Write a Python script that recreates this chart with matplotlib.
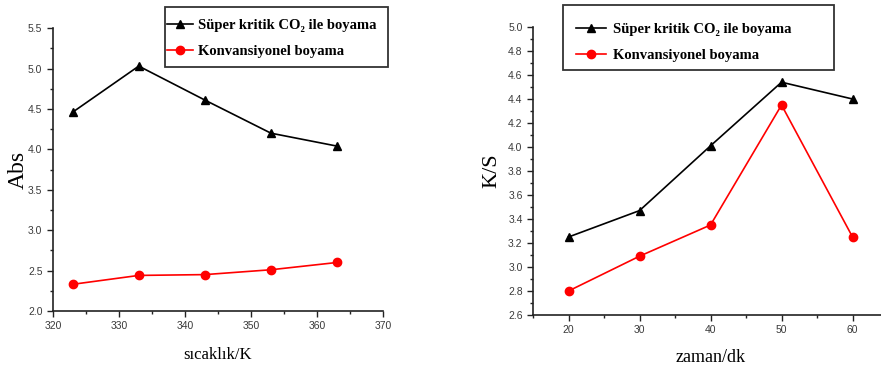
import matplotlib
matplotlib.use("Agg")
import matplotlib.pyplot as plt
from matplotlib.patches import Rectangle
from matplotlib.ticker import MultipleLocator, FormatStrFormatter

# left panel: absorbance vs temperature
temp_k = [323, 333, 343, 353, 363]
abs_sc = [4.46, 5.03, 4.61, 4.20, 4.04]
abs_conv = [2.33, 2.44, 2.45, 2.51, 2.60]

# right panel: K/S vs time
time_dk = [20, 30, 40, 50, 60]
ks_sc = [3.25, 3.47, 4.01, 4.54, 4.40]
ks_conv = [2.80, 3.09, 3.35, 4.35, 3.25]

label_sc = "Süper kritik CO₂ ile boyama"
label_conv = "Konvansiyonel boyama"

serif = ["Liberation Serif", "DejaVu Serif"]
sans = ["Liberation Sans", "DejaVu Sans"]

W, H = 881, 365
fig = plt.figure(figsize=(W / 100, H / 100), dpi=100)
ax1 = fig.add_axes([0.060, 0.148, 0.375, 0.775])
ax2 = fig.add_axes([0.605, 0.137, 0.403, 0.789])


def style_axes(ax):
    for s in ["top", "right"]:
        ax.spines[s].set_visible(False)
    for s in ["left", "bottom"]:
        ax.spines[s].set_linewidth(1.2)
        ax.spines[s].set_color("#222222")
    ax.tick_params(which="major", direction="out", length=4, width=1,
                   labelsize=7.5, labelcolor="#3a3a3a", colors="#222222")
    ax.tick_params(which="minor", direction="out", length=2.5, width=1, colors="#222222")
    for t in ax.get_xticklabels() + ax.get_yticklabels():
        t.set_family(sans)


def add_legend(ax, box, x0, top, hlen, hpad, spacing):
    # box in pixels: left, top, right, bottom
    l, t, r, b = box
    fig.patches.append(Rectangle((l / W, 1 - b / H), (r - l) / W, (b - t) / H,
                                 transform=fig.transFigure, fill=False,
                                 edgecolor="#333333", linewidth=1.3, zorder=5))
    ax.legend(loc="upper left", bbox_to_anchor=(x0 / W, 1 - top / H),
              bbox_transform=fig.transFigure, frameon=False,
              handlelength=hlen, handletextpad=hpad, labelspacing=spacing,
              borderpad=0, borderaxespad=0,
              prop={"family": serif, "weight": "bold", "size": 10.5})


# left
ax1.plot(temp_k, abs_sc, color="black", marker="^", markersize=6, linewidth=1.2, label=label_sc)
ax1.plot(temp_k, abs_conv, color="#ff0000", marker="o", markersize=6, linewidth=1.2, label=label_conv)
ax1.set_xlim(320, 370)
ax1.set_ylim(2.0, 5.5)
ax1.xaxis.set_major_locator(MultipleLocator(10))
ax1.xaxis.set_minor_locator(MultipleLocator(5))
ax1.yaxis.set_major_locator(MultipleLocator(0.5))
ax1.yaxis.set_minor_locator(MultipleLocator(0.25))
ax1.yaxis.set_major_formatter(FormatStrFormatter("%.1f"))
style_axes(ax1)
ax1.set_xlabel("sıcaklık/K", family=serif, fontsize=12, labelpad=11)
ax1.set_ylabel("Abs", family=serif, fontsize=17)
ax1.yaxis.set_label_coords(-0.072, 0.5)
add_legend(ax1, (165, 7, 388, 67), 167, 19, 1.8, 0.35, 0.85)

# right
ax2.plot(time_dk, ks_sc, color="black", marker="^", markersize=6, linewidth=1.2, label=label_sc)
ax2.plot(time_dk, ks_conv, color="#ff0000", marker="o", markersize=6, linewidth=1.2, label=label_conv)
ax2.set_xlim(15, 65)
ax2.set_ylim(2.6, 5.0)
ax2.xaxis.set_major_locator(MultipleLocator(10))
ax2.xaxis.set_minor_locator(MultipleLocator(5))
ax2.yaxis.set_major_locator(MultipleLocator(0.2))
ax2.yaxis.set_minor_locator(MultipleLocator(0.1))
ax2.yaxis.set_major_formatter(FormatStrFormatter("%.1f"))
style_axes(ax2)
ax2.set_xlabel("zaman/dk", family=serif, fontsize=13, labelpad=10)
ax2.set_ylabel("K/S", family=serif, fontsize=16)
ax2.yaxis.set_label_coords(-0.088, 0.5)
add_legend(ax2, (563, 5, 834, 70), 576, 23, 2.05, 0.5, 0.85)

fig.savefig("out.png", dpi=100)
